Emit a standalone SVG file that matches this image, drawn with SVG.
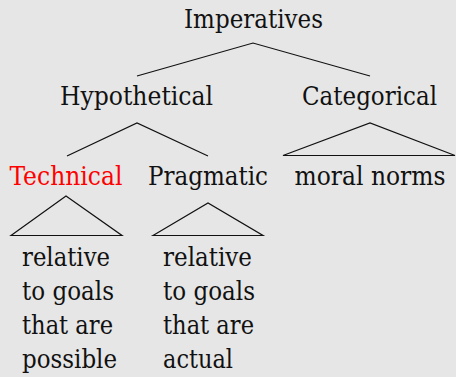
<svg xmlns="http://www.w3.org/2000/svg" width="456" height="377" viewBox="0 0 456 377">
<style>
.c{text-anchor:middle}
.red{fill:#ff0000}
.e{fill:none;stroke:#111;stroke-width:1.2;stroke-linejoin:miter}
</style>
<rect width="456" height="377" fill="#e6e6e6"/>
<g id="edges">
<polyline class="e" points="137,76 253,43 370,76"/>
<polyline class="e" points="67,156 137,123 208,156"/>
<polygon class="e" points="283,155.5 370,123 455,155.5"/>
<polygon class="e" points="11,235.5 66,196 122,235.5"/>
<polygon class="e" points="153,235.5 208,203 263,235.5"/>
</g>
<g font-family="DejaVu Serif Condensed, DejaVu Serif, serif" font-size="26" fill="#111">
<g id="imperatives"><text class="c" x="253.5" y="27.5" textLength="139" lengthAdjust="spacingAndGlyphs">Imperatives</text></g>
<g id="hypothetical"><text class="c" x="136.5" y="105" textLength="153" lengthAdjust="spacingAndGlyphs">Hypothetical</text></g>
<g id="categorical"><text class="c" x="369.5" y="105" textLength="135" lengthAdjust="spacingAndGlyphs">Categorical</text></g>
<g id="technical"><text class="c red" x="66" y="185" textLength="113" lengthAdjust="spacingAndGlyphs">Technical</text></g>
<g id="pragmatic"><text class="c" x="208" y="185" textLength="120" lengthAdjust="spacingAndGlyphs">Pragmatic</text></g>
<g id="moral-norms"><text class="c" x="370" y="185" textLength="151" lengthAdjust="spacingAndGlyphs">moral norms</text></g>
<g id="technical-goals">
<text x="22" y="266" textLength="88" lengthAdjust="spacingAndGlyphs">relative</text>
<text x="22" y="300" textLength="92" lengthAdjust="spacingAndGlyphs">to goals</text>
<text x="22" y="334" textLength="91" lengthAdjust="spacingAndGlyphs">that are</text>
<text x="22" y="368" textLength="95" lengthAdjust="spacingAndGlyphs">possible</text>
</g>
<g id="pragmatic-goals">
<text x="163" y="266" textLength="89" lengthAdjust="spacingAndGlyphs">relative</text>
<text x="163" y="300" textLength="92" lengthAdjust="spacingAndGlyphs">to goals</text>
<text x="163" y="334" textLength="91" lengthAdjust="spacingAndGlyphs">that are</text>
<text x="163" y="368" textLength="70" lengthAdjust="spacingAndGlyphs">actual</text>
</g>
</g>
</svg>
